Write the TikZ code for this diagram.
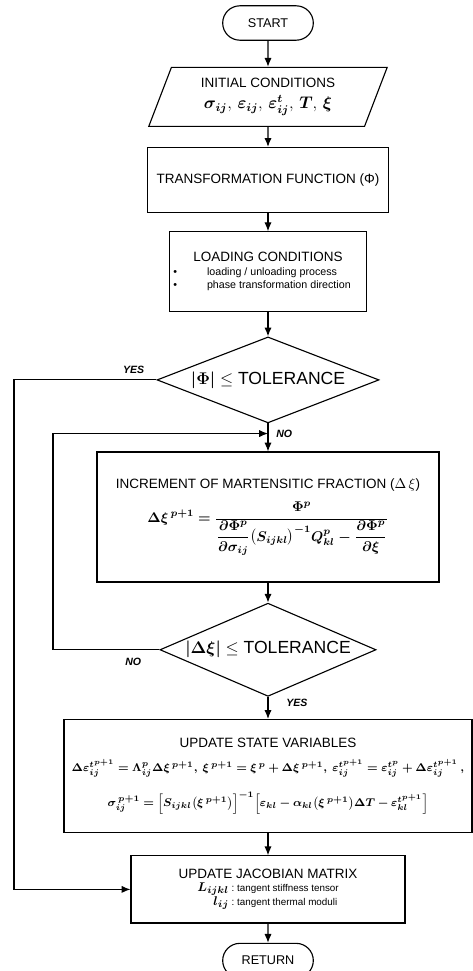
\documentclass[tikz,border=0pt]{standalone}
\usepackage{amsmath,amssymb,bm}
\usepackage{fontspec}
\setmainfont{Liberation Sans}
\usetikzlibrary{arrows.meta,positioning,shapes.geometric,shapes.misc,calc}

\begin{document}
\begin{tikzpicture}[
    box/.style={rectangle,draw,thick,align=center,font=\fontsize{9.6}{12}\selectfont,inner sep=2pt},
    term/.style={rounded rectangle,draw,thick,minimum width=2.5cm,minimum height=0.86cm,font=\fontsize{9}{11}\selectfont},
    decide/.style={diamond,draw,thick,aspect=3,inner sep=0pt,font=\fontsize{12.5}{14}\selectfont},
    lbl/.style={font=\fontsize{7.5}{9}\selectfont\bfseries\itshape,inner sep=0pt},
    >={Latex[length=2.2mm,width=1.8mm]}, node distance=5mm
  ]
  \useasboundingbox (0,0) rectangle (11.8,-24.275);
  \node[term] (start) at (6.7,-0.575) {START};
  \node[box,trapezium,trapezium left angle=69,trapezium right angle=111,minimum width=5.7cm,minimum height=1.475cm,below=0.65cm of start] (init) {INITIAL CONDITIONS\\[3pt]{\fontsize{12}{14}\selectfont$\bm{\sigma_{ij}},\,\bm{\varepsilon_{ij}},\,\bm{\varepsilon^{t}_{ij}},\,\bm{T},\,\bm{\xi}$}};
  \node[box,minimum width=6.03cm,minimum height=1.63cm,below=0.5cm of init] (trans) {TRANSFORMATION FUNCTION (Φ)};
  \node[box,minimum width=4.93cm,minimum height=2cm,below=0.45cm of trans] (load) {LOADING CONDITIONS\\[3pt]{\fontsize{7.6}{9}\selectfont\begin{tabular}{@{}l@{\hspace{7.5mm}}l@{\hspace{3mm}}}• & loading / unloading process\\ • & phase transformation direction\end{tabular}}};
  \node[decide,minimum width=5.55cm,minimum height=2.15cm,below=0.6cm of load] (tol1) {$\bm{\left|\Phi\right|}\le$ TOLERANCE};
  \node[box,minimum width=8.55cm,minimum height=3.25cm,below=0.7cm of tol1] (incr) {INCREMENT OF MARTENSITIC FRACTION ($\Delta\,\xi$)\\[7pt]{$\displaystyle\bm{\Delta\xi^{\,p+1}=\frac{\Phi^{p}}{\dfrac{\partial\Phi^{p}}{\partial\sigma_{ij}}\bigl(S_{ijkl}\bigr)^{-1}Q^{p}_{kl}-\dfrac{\partial\Phi^{p}}{\partial\xi}}}$}};
  \node[decide,minimum width=5.05cm,minimum height=2.33cm,below=0.5cm of incr] (tol2) {$\bm{\left|\Delta\xi\right|}\le$ TOLERANCE};
  \node[box,minimum width=10.2cm,minimum height=2.83cm,below=0.55cm of tol2] (upd) {UPDATE STATE VARIABLES\\[5pt]{\fontsize{8}{10}\selectfont$\bm{\Delta\varepsilon^{t^{p+1}}_{ij}=\Lambda^{p}_{ij}\Delta\xi^{\,p+1},\ \xi^{\,p+1}=\xi^{\,p}+\Delta\xi^{\,p+1},\ \varepsilon^{t^{p+1}}_{ij}=\varepsilon^{t^{p}}_{ij}+\Delta\varepsilon^{t^{p+1}}_{ij}\,,}$}\\[9pt]{\fontsize{8}{10}\selectfont$\bm{\sigma^{\,p+1}_{ij}=\Bigl[S_{ijkl}\bigl(\xi^{\,p+1}\bigr)\Bigr]^{-1}\Bigl[\varepsilon_{kl}-\alpha_{kl}\bigl(\xi^{\,p+1}\bigr)\Delta T-\varepsilon^{t^{p+1}}_{kl}\Bigr]}$}};
  \node[box,minimum width=6.85cm,minimum height=1.68cm,below=0.55cm of upd] (jac) {UPDATE JACOBIAN MATRIX\\[2pt]{\fontsize{7}{9}\selectfont\begin{tabular}{@{}r@{\ :\ }l@{}}{\fontsize{9.5}{11}\selectfont$\bm{L_{ijkl}}$} & tangent stiffness tensor\\[1pt] {\fontsize{9.5}{11}\selectfont$\bm{l_{ij}}$} & tangent thermal moduli\end{tabular}}};
  \node[term,below=0.48cm of jac] (ret) {RETURN};
  % main line
  \draw[->,thick] (start) -- (init);
  \draw[->,thick] (init) -- (trans);
  \draw[->,thick] (trans) -- (load);
  \draw[->,thick] (load) -- (tol1);
  \draw[->,thick] (tol1) -- (incr);
  \draw[->,thick] (incr) -- (tol2);
  \draw[->,thick] (tol2) -- (upd);
  \draw[->,thick] (upd) -- (jac);
  \draw[->,thick] (jac) -- (ret);
  % side branches
  \coordinate (yesx) at (0.35,0);
  \coordinate (nox) at (1.325,0);
  \coordinate (join) at ($(tol1.south)!0.36!(incr.north)$);
  \draw[->,thick] (tol1.west) -- (tol1.west -| yesx) |- (jac.west);
  \draw[->,thick] (tol2.west) -- (tol2.west -| nox) |- (join);
  \node[lbl,above left=1.5mm and 3mm of tol1.west] {YES};
  \node[lbl,right=2mm of join] {NO};
  \node[lbl,below left=2mm and 4.5mm of tol2.west] {NO};
  \node[lbl,below right=0.5mm and 4.5mm of tol2.south] {YES};
\end{tikzpicture}
\end{document}
